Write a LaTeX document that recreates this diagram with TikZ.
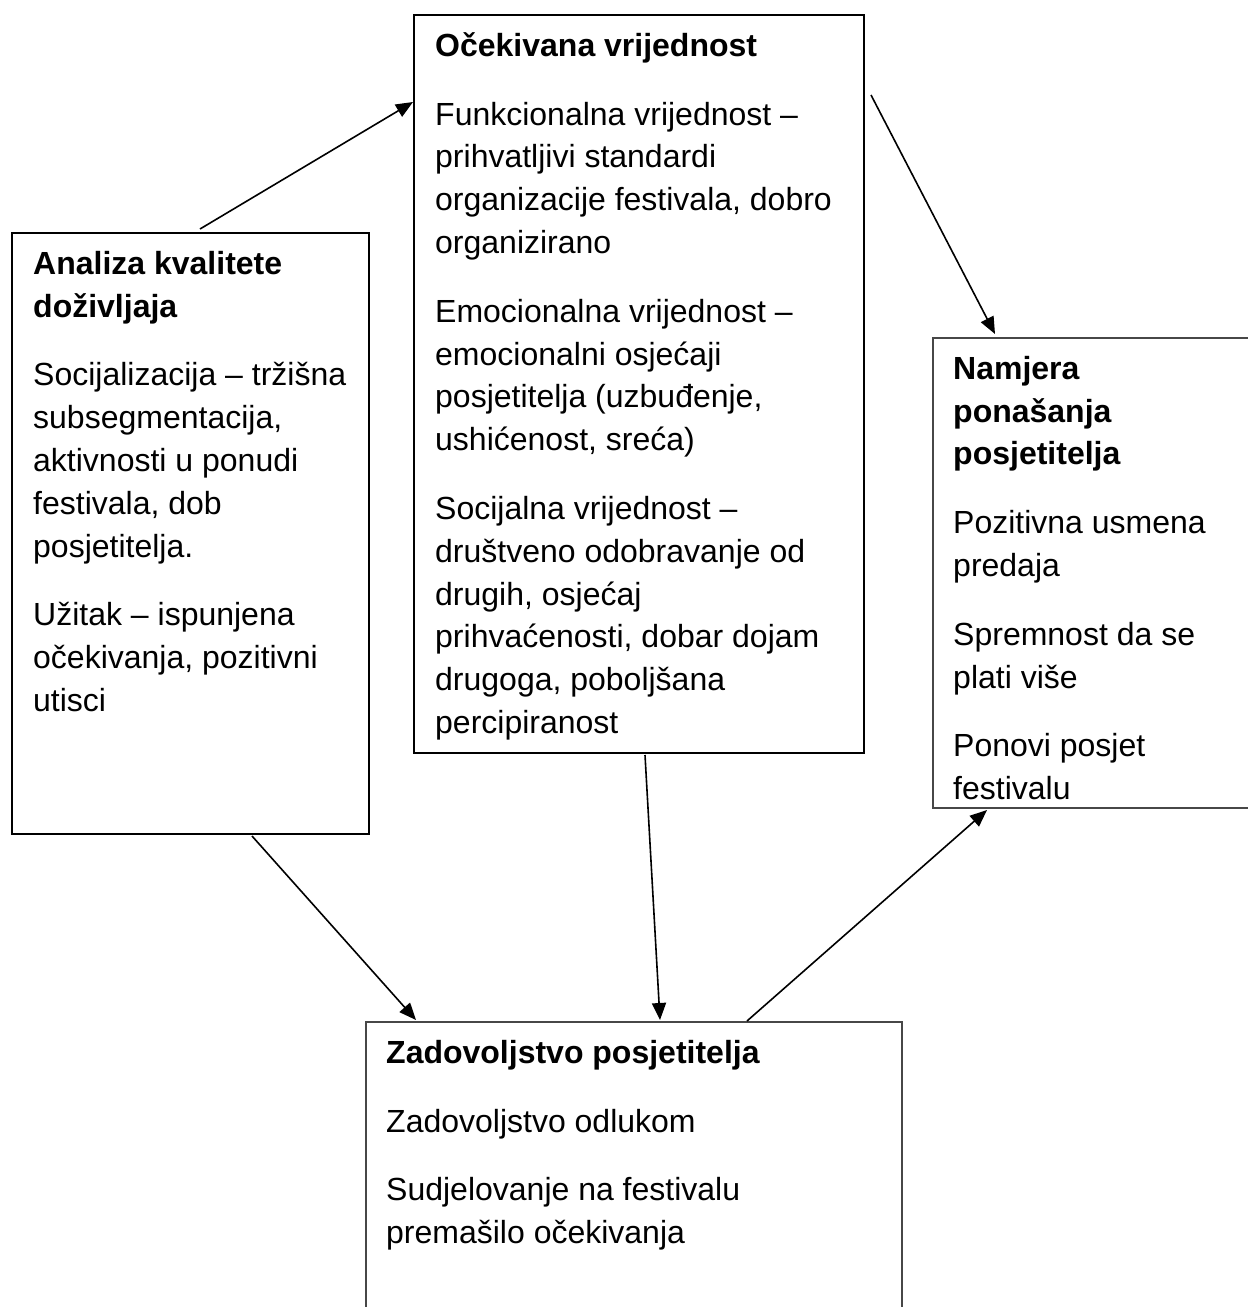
\documentclass[tikz,border=0pt]{standalone}
\usepackage{fontspec}
\setmainfont{Liberation Sans}
\usetikzlibrary{arrows.meta,calc}
\begin{document}
\begin{tikzpicture}[x=1pt,y=-1pt,
  box/.style={draw=black, line width=2pt, anchor=north west, inner sep=0pt},
  graybox/.style={box, draw=black!72},
  txt/.style={anchor=north west, inner sep=0pt, align=left, font=\fontsize{32}{42.8}\selectfont},
  arr/.style={line width=1.6pt, -{Triangle[length=17pt,width=14pt]}}]
\useasboundingbox[fill=white] (0,0) rectangle (1248,1307);
\clip (0,0) rectangle (1248,1307);

\node[box, minimum width=357pt, minimum height=601pt] (A) at (11,232) {};
\node[box, minimum width=450pt, minimum height=738pt] (B) at (413,14) {};
\node[graybox, minimum width=380pt, minimum height=470pt] (C) at (932,337) {};
\node[graybox, minimum width=536pt, minimum height=330pt] (D) at (365,1021) {};

\node[txt] (tA) at ($(A.north west)+(22,10)$) {\rule{0pt}{32pt}\textbf{Analiza kvalitete}\\\textbf{doživljaja}\\[26pt]
Socijalizacija – tržišna\\subsegmentacija,\\aktivnosti u ponudi\\festivala, dob\\posjetitelja.\\[26pt]
Užitak – ispunjena\\očekivanja, pozitivni\\utisci};

\node[txt] (tB) at ($(B.north west)+(22,10)$) {\rule{0pt}{32pt}\textbf{Očekivana vrijednost}\\[26pt]
Funkcionalna vrijednost –\\prihvatljivi standardi\\organizacije festivala, dobro\\organizirano\\[26pt]
Emocionalna vrijednost –\\emocionalni osjećaji\\posjetitelja (uzbuđenje,\\ushićenost, sreća)\\[26pt]
Socijalna vrijednost –\\društveno odobravanje od\\drugih, osjećaj\\prihvaćenosti, dobar dojam\\drugoga, poboljšana\\percipiranost};

\node[txt] (tC) at ($(C.north west)+(21,10)$) {\rule{0pt}{32pt}\textbf{Namjera}\\\textbf{ponašanja}\\\textbf{posjetitelja}\\[26pt]
Pozitivna usmena\\predaja\\[26pt]
Spremnost da se\\plati više\\[26pt]
Ponovi posjet\\festivalu};

\node[txt] (tD) at ($(D.north west)+(21,10)$) {\rule{0pt}{32pt}\textbf{Zadovoljstvo posjetitelja}\\[26pt]
Zadovoljstvo odlukom\\[26pt]
Sudjelovanje na festivalu\\premašilo očekivanja};

\draw[arr] ($(A.north west)+(189,-3)$) -- ($(B.north west)+(0,88)$);
\draw[arr] ($(B.north east)+(6,81)$) -- ($(C.north west)+(63,-3)$);
\draw[arr] ($(A.south west)+(241,1)$) -- ($(D.north west)+(51,-1)$);
\draw[arr] ($(B.south west)+(232,1)$) -- ($(D.north west)+(295,-1)$);
\draw[arr] ($(D.north west)+(382,0)$) -- ($(C.south west)+(55,1)$);
\end{tikzpicture}
\end{document}
